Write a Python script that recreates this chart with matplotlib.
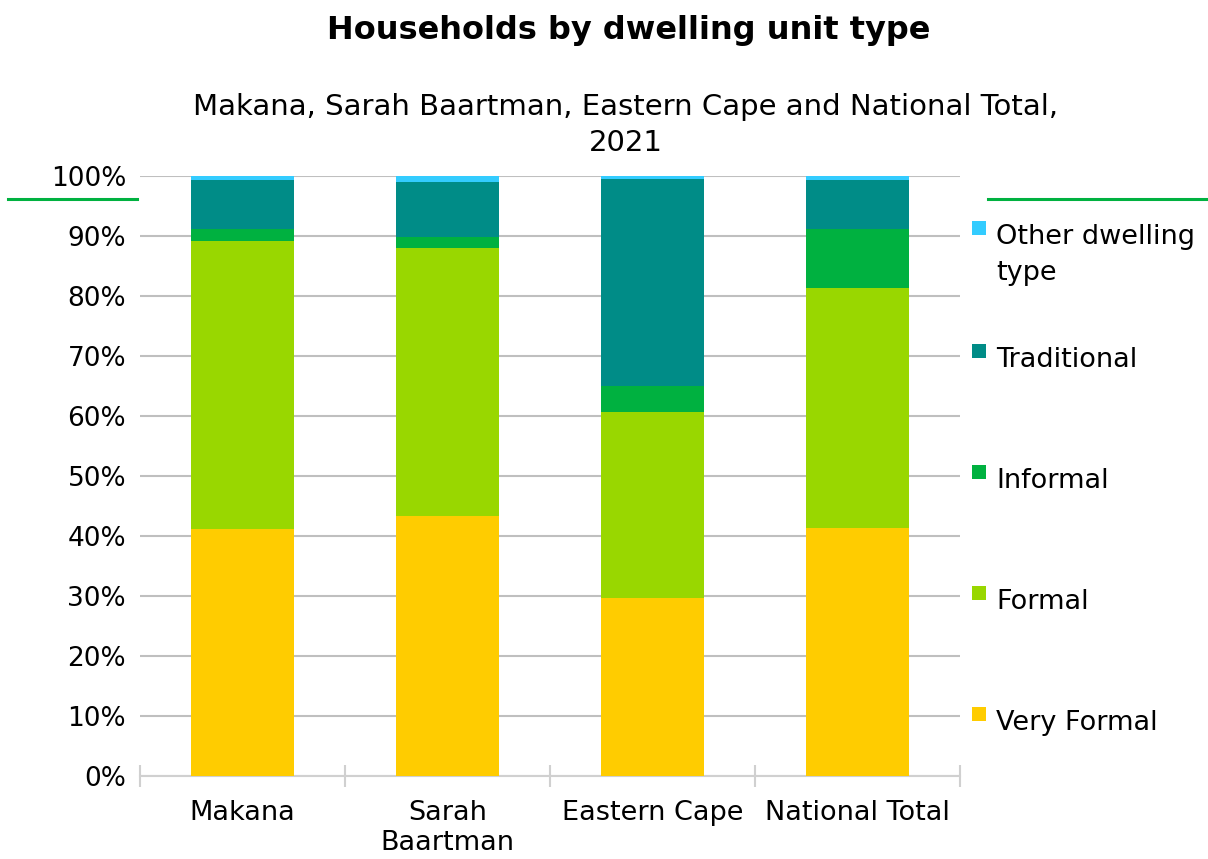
import matplotlib
matplotlib.use("Agg")
import matplotlib.pyplot as plt
from matplotlib.lines import Line2D
from matplotlib.patches import Rectangle
import numpy as np

plt.rcParams['font.family'] = ['DejaVu Sans']

categories = ["Makana", "Sarah\nBaartman", "Eastern Cape", "National Total"]
series_names = ["Very Formal", "Formal", "Informal", "Traditional", "Other dwelling\ntype"]
very_formal = [41.2, 43.3, 29.6, 41.4]
formal = [48.0, 44.7, 31.1, 39.9]
informal = [2.0, 1.9, 4.3, 9.9]
traditional = [8.1, 9.1, 34.5, 8.1]
other = [0.7, 1.0, 0.5, 0.7]
colors = ["#FFCC00", "#99D700", "#00B140", "#008C87", "#33CCFF"]

series = [very_formal, formal, informal, traditional, other]

fig = plt.figure(figsize=(12.08, 8.59), dpi=100)
W, H = 1208, 859
ax = fig.add_axes([140 / W, 1 - 776 / H, 820 / W, 600 / H])

x = np.arange(len(categories))
bottom = np.zeros(len(categories))
for vals, col in zip(series, colors):
    v = np.array(vals) / 100.0
    ax.bar(x, v, bottom=bottom, width=0.5, color=col, zorder=3, linewidth=0)
    bottom += v

ax.set_xlim(-0.5, len(categories) - 0.5)
ax.set_ylim(0, 1)
yt = np.arange(0, 1.01, 0.1)
ax.set_yticks(yt)
ax.set_yticklabels([f"{int(round(t * 100))}%" for t in yt])
ax.grid(axis='y', color='#BFBFBF', linewidth=1.5, zorder=0)
ax.set_xticks(x)
ax.set_xticklabels(categories)
for lbl in ax.get_xticklabels():
    lbl.set_linespacing(1.2)
ax.set_xticks(np.arange(-0.5, len(categories), 1.0), minor=True)
ax.tick_params(axis='x', which='major', length=0, pad=17, labelsize=19.5)
ax.tick_params(axis='x', which='minor', length=16, direction='inout', color='#D0D0D0', width=1.5)
ax.tick_params(axis='y', length=0, pad=10, labelsize=19)
for s in ['top', 'right', 'left']:
    ax.spines[s].set_visible(False)
ax.spines['bottom'].set_color('#D0D0D0')
ax.spines['bottom'].set_linewidth(1.5)

# Title and subtitle
fig.text(629 / W, 1 - 31 / H, "Households by dwelling unit type", ha='center', va='center',
         fontsize=23, fontweight='bold')
fig.text(626 / W, 1 - 115 / H, "Makana, Sarah Baartman, Eastern Cape and National Total,",
         ha='center', va='baseline', fontsize=21)
fig.text(626 / W, 1 - 151 / H, "2021", ha='center', va='baseline', fontsize=21)

# Green decorative lines
fig.add_artist(Line2D([8 / W, 137 / W], [1 - 199 / H, 1 - 199 / H], color='#00B140', linewidth=2.2))
fig.add_artist(Line2D([988 / W, 1.0], [1 - 199 / H, 1 - 199 / H], color='#00B140', linewidth=2.2))

# Legend (reverse order, top to bottom); baselines in pixels
legend_baseline = [244, 367, 488, 609, 730]
for name, col, yb in zip(series_names[::-1], colors[::-1], legend_baseline):
    mc = yb - 16
    fig.add_artist(Rectangle((972 / W, 1 - (mc + 7) / H), 14 / W, 14 / H,
                             facecolor=col, edgecolor='none', transform=fig.transFigure))
    for i, line in enumerate(name.split('\n')):
        fig.text(996 / W, 1 - (yb + 36 * i) / H, line, ha='left', va='baseline', fontsize=19.5)

fig.savefig("out.png", dpi=100)
